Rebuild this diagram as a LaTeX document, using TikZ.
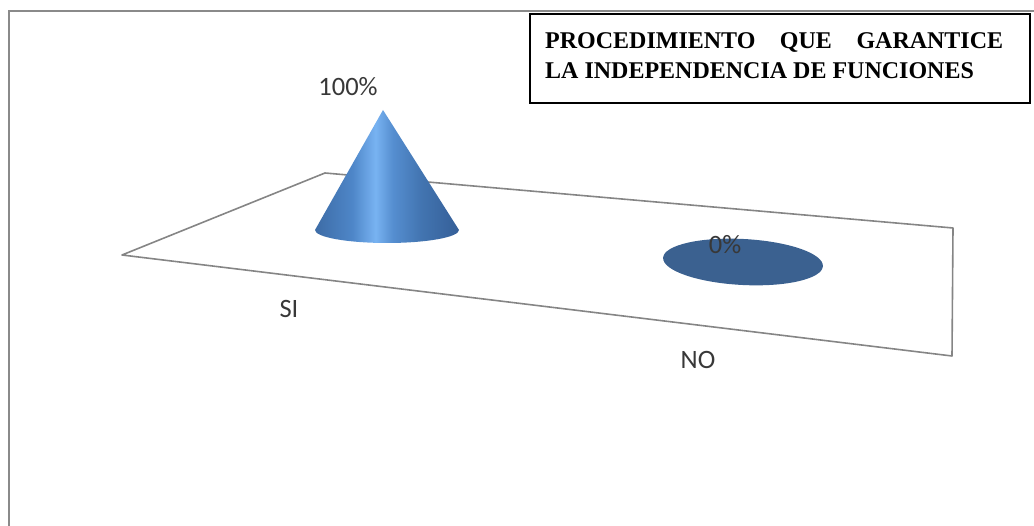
\documentclass[tikz,border=0pt]{standalone}
\usepackage{fontspec}
\setmainfont{Liberation Serif}
\newfontfamily\calib{Carlito}
\definecolor{frameg}{HTML}{8A8A8A}
\definecolor{floorg}{HTML}{858585}
\definecolor{cA}{HTML}{3D6CA6}
\definecolor{cB}{HTML}{4E86C8}
\definecolor{cC}{HTML}{78B3F2}
\definecolor{cD}{HTML}{558ED0}
\definecolor{cE}{HTML}{4274B0}
\definecolor{cF}{HTML}{355F98}
\definecolor{disc}{HTML}{3B6190}
\definecolor{lbl}{HTML}{383838}
\pgfdeclarehorizontalshading{coneshade}{100bp}{color(0bp)=(cA); color(25bp)=(cA); color(38bp)=(cB); color(46bp)=(cC); color(52bp)=(cD); color(62bp)=(cE); color(75bp)=(cF); color(100bp)=(cF)}
\tikzset{
  chartlabel/.style={font=\calib\fontsize{26.5}{30}\selectfont, text=lbl, inner sep=0pt},
  floorline/.style={draw=floorg, line width=1.6pt, line join=round},
}
\begin{document}
\begin{tikzpicture}[x=1pt,y=1pt]
\useasboundingbox (0,0) rectangle (1034,526);
% outer frame (left and top only)
\draw[frameg, line width=2.6pt] (9,0) -- (9,515) -- (1034,515);
% floor
\coordinate (fl) at (122,271);
\coordinate (bl) at (325,353);
\coordinate (br) at (953,298);
\coordinate (fr) at (952,170);
\draw[floorline] (fl) -- (bl) -- (br) -- (fr) -- cycle;
% cone
\coordinate (apex) at (383,416);
\coordinate (bleft) at (315,296);
\shade[shading=coneshade] (apex) -- (bleft) arc[start angle=180, end angle=360, x radius=72, y radius=13] -- cycle;
% disc for NO
\fill[disc, rotate around={-3:(743,264)}] (743,264) ellipse[x radius=80, y radius=23];
% labels
\node[chartlabel] (p100) at (348,439) {100\%};
\node[chartlabel] (p0) at (725,281) {0\%};
\node[chartlabel] (si) at (289,217) {SI};
\node[chartlabel] (no) at (698,166) {NO};
% title box
\draw[black, line width=1.4pt] (530,423) rectangle (1030,512);
\node[anchor=north west, inner sep=0pt, text width=458pt, align=justify,
      font=\bfseries\fontsize{24}{30}\selectfont] (title) at (545,493.5)
  {PROCEDIMIENTO QUE GARANTICE\linebreak LA INDEPENDENCIA DE FUNCIONES};
\end{tikzpicture}
\end{document}
